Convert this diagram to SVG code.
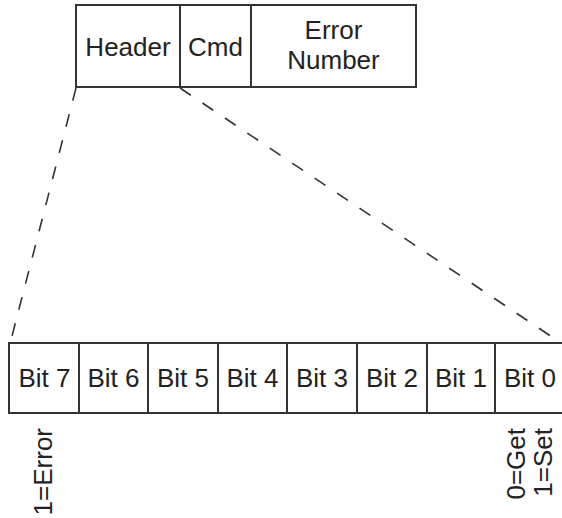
<svg xmlns="http://www.w3.org/2000/svg" width="562" height="518" viewBox="0 0 562 518">
<style>
.box{fill:#fff;stroke:#333;stroke-width:2}
.t{font-family:"Liberation Sans",Arial,sans-serif;font-size:26px;fill:#222;text-anchor:middle}
.r{font-family:"Liberation Sans",Arial,sans-serif;font-size:26px;fill:#222;text-anchor:end}
.dash{fill:none;stroke:#333;stroke-width:1.6;stroke-dasharray:13 14}
</style>
<rect width="562" height="518" fill="#fff"/>
<g id="connectors">
<line class="dash" x1="76" y1="88" x2="11" y2="340"/>
<line class="dash" x1="180" y1="88" x2="558" y2="341"/>
</g>
<g id="header"><rect class="box" x="76" y="5" width="104" height="82"/><text class="t" x="128" y="56">Header</text></g>
<g id="cmd"><rect class="box" x="180" y="5" width="71" height="82"/><text class="t" x="215.5" y="56">Cmd</text></g>
<g id="error-number"><rect class="box" x="251" y="5" width="165" height="82"/><text class="t" x="333.5" y="39">Error</text><text class="t" x="333.5" y="68.5">Number</text></g>
<g id="bit7"><rect class="box" x="9" y="343" width="70" height="70"/><text class="t" x="44.5" y="387">Bit 7</text></g>
<g id="bit6"><rect class="box" x="79" y="343" width="69" height="70"/><text class="t" x="113.5" y="387">Bit 6</text></g>
<g id="bit5"><rect class="box" x="148" y="343" width="70" height="70"/><text class="t" x="183" y="387">Bit 5</text></g>
<g id="bit4"><rect class="box" x="218" y="343" width="69" height="70"/><text class="t" x="252.5" y="387">Bit 4</text></g>
<g id="bit3"><rect class="box" x="287" y="343" width="70" height="70"/><text class="t" x="322" y="387">Bit 3</text></g>
<g id="bit2"><rect class="box" x="357" y="343" width="70" height="70"/><text class="t" x="392" y="387">Bit 2</text></g>
<g id="bit1"><rect class="box" x="427" y="343" width="68" height="70"/><text class="t" x="461" y="387">Bit 1</text></g>
<g id="bit0"><rect class="box" x="495" y="343" width="70" height="70"/><text class="t" x="530" y="387">Bit 0</text></g>
<g id="bit7-note"><text class="r" transform="translate(52,428) rotate(-90)">1=Error</text></g>
<g id="bit0-note"><text class="r" transform="translate(525,428) rotate(-90)">0=Get</text><text class="r" transform="translate(552,428) rotate(-90)">1=Set</text></g>
</svg>
